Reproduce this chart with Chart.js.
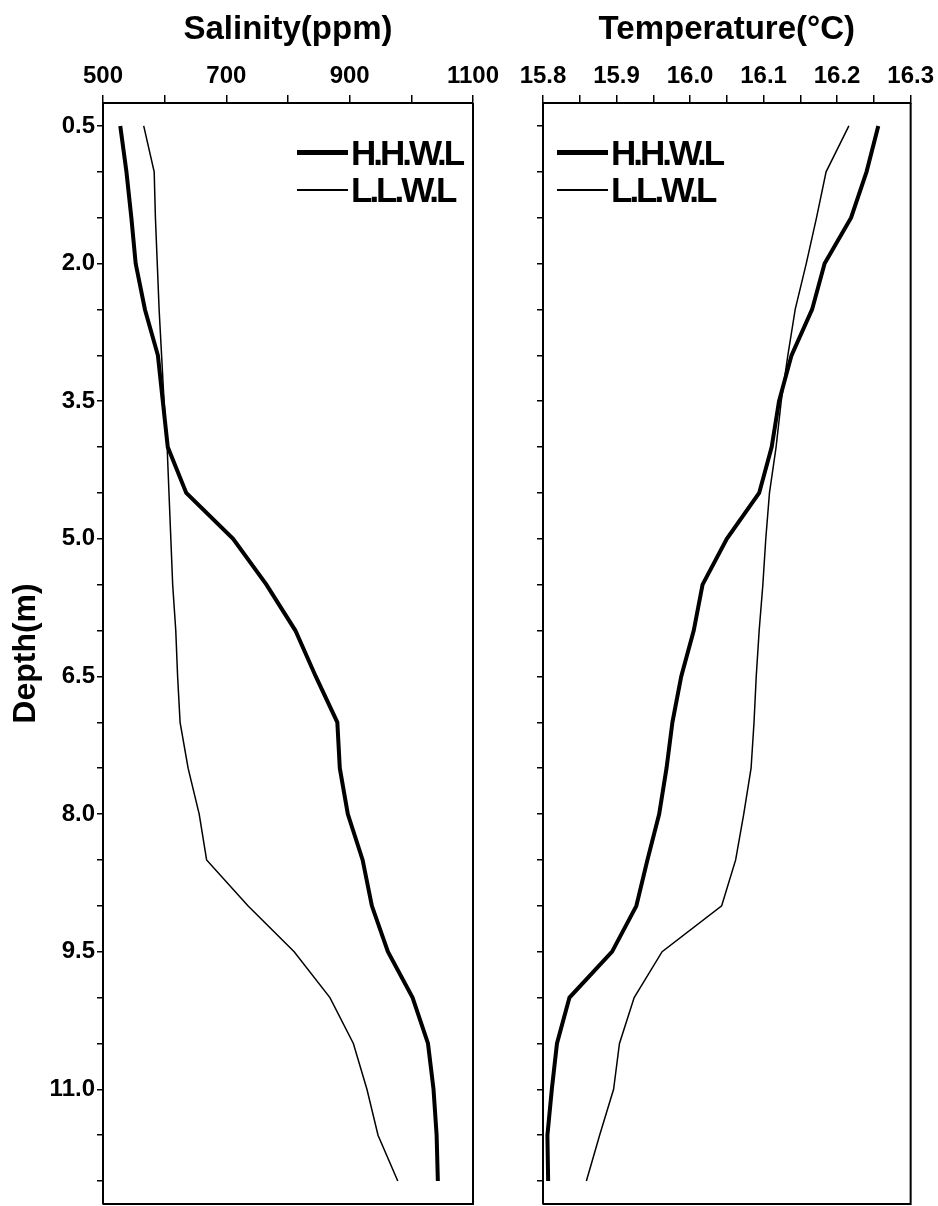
<!DOCTYPE html>
<html>
<head>
<meta charset="utf-8">
<script src="https://cdn.jsdelivr.net/npm/chart.js@4.4.0/dist/chart.umd.min.js"></script>
<style>
  html, body { margin: 0; padding: 0; background: #fff; }
  #wrap { position: relative; width: 938px; height: 1206px; overflow: hidden; }
  canvas { position: absolute; top: 0; }
  #salChart { left: 0; }
  #tempChart { left: 505px; }
  .legend { position: absolute; font-family: 'Liberation Sans', Arial, sans-serif; font-weight: bold;
            font-size: 35px; letter-spacing: -3px; color: #000; }
  .legend .row { display: flex; align-items: center; height: 37px; }
  .legend .mark { display: inline-block; width: 51px; background: #000; margin-right: 3px; }
</style>
</head>
<body>
<div id="wrap">
  <canvas id="salChart" width="505" height="1206"></canvas>
  <canvas id="tempChart" width="433" height="1206"></canvas>
  <div class="legend" id="salLegend" style="left:297px; top:134px;"></div>
  <div class="legend" id="tempLegend" style="left:557px; top:134px;"></div>
</div>
<script>
// ===== DATA =====
const depths = [0.5, 1.0, 1.5, 2.0, 2.5, 3.0, 3.5, 4.0, 4.5, 5.0, 5.5, 6.0,
                6.5, 7.0, 7.5, 8.0, 8.5, 9.0, 9.5, 10.0, 10.5, 11.0, 11.5, 12.0];

const salinityHHWL = [528, 538, 546, 553, 568, 589, 597, 605, 635, 711, 765, 812,
                      845, 880, 884, 897, 921, 936, 962, 1002, 1027, 1036, 1041, 1043];
const salinityLLWL = [566, 583, 585, 588, 591, 595, 599, 604, 607, 610, 613, 618,
                      621, 625, 638, 656, 668, 735, 810, 868, 906, 928, 946, 978];

const tempHHWL = [16.256, 16.240, 16.219, 16.183, 16.166, 16.138, 16.121, 16.111, 16.094, 16.050, 16.017, 16.005,
                  15.988, 15.976, 15.968, 15.958, 15.942, 15.927, 15.894, 15.836, 15.819, 15.812, 15.806, 15.807];
const tempLLWL = [16.216, 16.185, 16.172, 16.158, 16.143, 16.133, 16.124, 16.117, 16.108, 16.103, 16.099, 16.094,
                  16.090, 16.087, 16.083, 16.073, 16.062, 16.043, 15.962, 15.924, 15.904, 15.896, 15.877, 15.859];

const seriesNames = ['H.H.W.L', 'L.L.W.L'];
const salinityTickLabels = ['500', '700', '900', '1100'];
const tempTickLabels = ['15.8', '15.9', '16.0', '16.1', '16.2', '16.3'];
const depthTickLabels = ['0.5', '2.0', '3.5', '5.0', '6.5', '8.0', '9.5', '11.0'];

// ===== CONFIG =====
Chart.defaults.font.family = "'Liberation Sans', Arial, sans-serif";
Chart.defaults.color = '#000';

const LINE_W = [4, 1.5];

// cạnh phải + cạnh dưới của khung
const frame = {
    id: 'frame',
    afterDraw(chart) {
        const { ctx, chartArea: a } = chart;
        ctx.save();
        ctx.strokeStyle = '#000';
        ctx.lineWidth = 2;
        ctx.beginPath();
        ctx.moveTo(a.right, a.top);
        ctx.lineTo(a.right, a.bottom);
        ctx.lineTo(a.left, a.bottom);
        ctx.stroke();
        ctx.restore();
    }
};

function pickLabel(list, v, tol) {
    const hit = list.find(l => Math.abs(parseFloat(l) - v) < tol);
    return hit || '';
}

function xAxis(min, max, step, labels, title) {
    return {
        type: 'linear',
        position: 'top',
        min, max,
        afterFit: (s) => { s.height = 103; },
        ticks: {
            stepSize: step,
            autoSkip: false,
            maxRotation: 0,
            padding: 4,
            font: { size: 24, weight: 'bold' },
            callback: (v) => pickLabel(labels, v, step / 10)
        },
        grid: { drawOnChartArea: false, color: '#000', lineWidth: 1.5, tickLength: 8 },
        border: { display: true, color: '#000', width: 2 },
        title: {
            display: true,
            text: title,
            font: { size: 33, weight: 'bold' },
            padding: { top: 10, bottom: 0 }
        }
    };
}

function yAxis(width, withLabels) {
    return {
        type: 'linear',
        reverse: true,
        min: 0.25, max: 12.25,
        // tick mỗi 0.5 m, đúng tại các độ sâu đo
        afterBuildTicks: (s) => { s.ticks = depths.map(v => ({ value: v })); },
        afterFit: (s) => { s.width = width; s.paddingTop = 0; s.paddingBottom = 0; },
        ticks: {
            autoSkip: false,
            padding: 2,
            font: { size: 24, weight: 'bold' },
            callback: (v) => withLabels ? pickLabel(depthTickLabels, v, 0.01) : ''
        },
        grid: { drawOnChartArea: false, color: '#000', lineWidth: 1.5, tickLength: 6 },
        border: { display: true, color: '#000', width: 2 },
        title: {
            display: withLabels,
            text: 'Depth(m)',
            font: { size: 32, weight: 'bold' },
            padding: { top: 7, bottom: 0 }
        }
    };
}

function makeDatasets(a, b) {
    return [a, b].map((vals, i) => ({
        label: seriesNames[i],
        data: vals.map((v, k) => ({ x: v, y: depths[k] })),
        showLine: true,
        borderColor: '#000',
        borderWidth: LINE_W[i],
        pointRadius: 0,
        tension: 0,
        fill: false
    }));
}

function makeChart(id, datasets, x, y, pad) {
    return new Chart(document.getElementById(id), {
        type: 'scatter',
        data: { datasets },
        options: {
            responsive: false,
            animation: false,
            devicePixelRatio: 1,
            layout: { padding: pad },
            plugins: { legend: { display: false }, tooltip: { enabled: false } },
            scales: { x, y }
        },
        plugins: [frame]
    });
}

function buildLegend(elId, chart) {
    const el = document.getElementById(elId);
    chart.data.datasets.forEach((ds) => {
        const row = document.createElement('div');
        row.className = 'row';
        const mark = document.createElement('span');
        mark.className = 'mark';
        mark.style.height = (ds.borderWidth > 2 ? 5 : 2) + 'px';
        const txt = document.createElement('span');
        txt.textContent = ds.label;
        row.appendChild(mark);
        row.appendChild(txt);
        el.appendChild(row);
    });
}

const salChart = makeChart('salChart',
    makeDatasets(salinityHHWL, salinityLLWL),
    xAxis(500, 1100, 100, salinityTickLabels, 'Salinity(ppm)'),
    yAxis(103, true),
    { right: 32, bottom: 2 });

const tempChart = makeChart('tempChart',
    makeDatasets(tempHHWL, tempLLWL),
    xAxis(15.8, 16.3, 0.05, tempTickLabels, 'Temperature(\u00B0C)'),
    yAxis(38, false),
    { right: 25, bottom: 2 });

buildLegend('salLegend', salChart);
buildLegend('tempLegend', tempChart);
</script>
</body>
</html>
